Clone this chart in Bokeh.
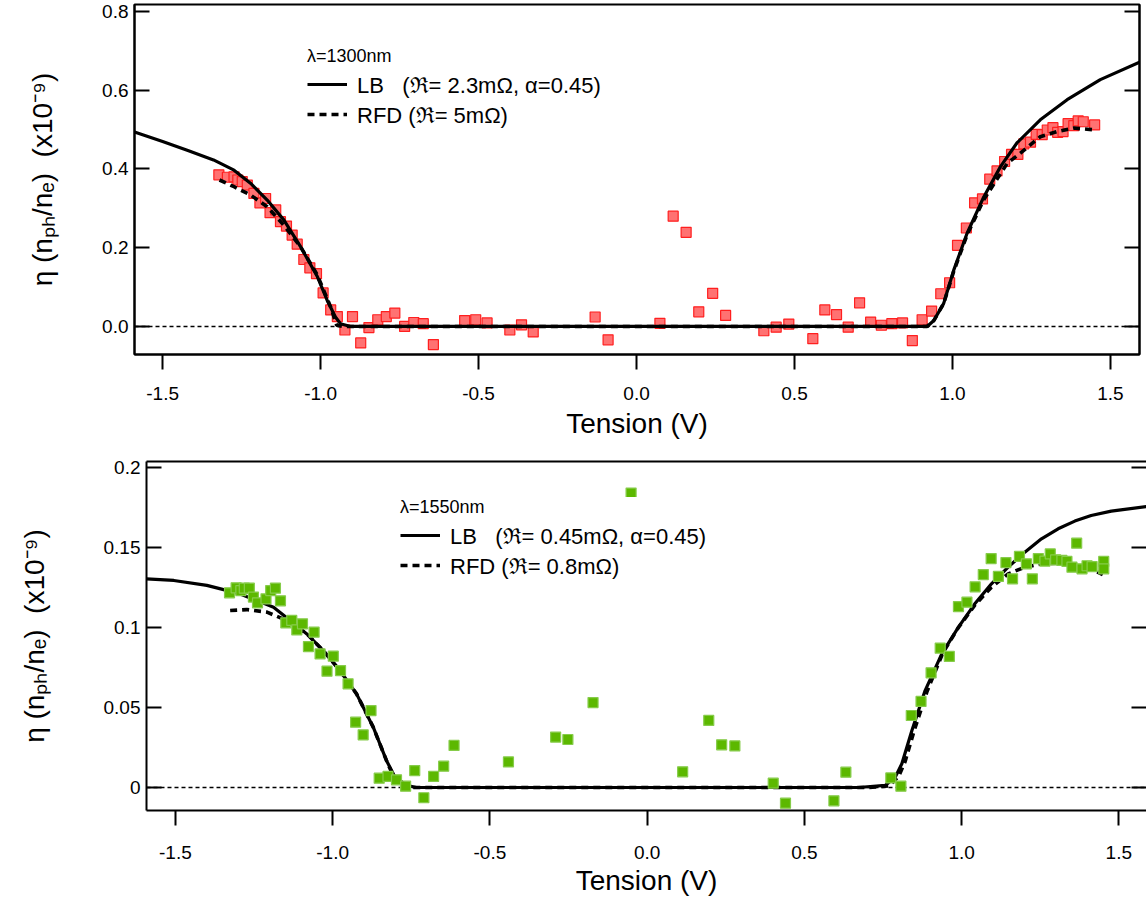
from bokeh.plotting import figure
from bokeh.models import (Range1d, FixedTicker, LinearAxis, Span, Legend, LegendItem,
                          NumeralTickFormatter)
from bokeh.layouts import column
from bokeh.embed import file_html
from bokeh.resources import INLINE

FONT = "Liberation Sans"

# ---------------- data: top panel (lambda = 1300 nm) ----------------
top_data_x = [-1.322, -1.295, -1.274, -1.262, -1.248, -1.232, -1.211, -1.192, -1.174, -1.160,
              -1.142, -1.127, -1.108, -1.090, -1.074, -1.053, -1.034, -1.013, -0.992, -0.968,
              -0.947, -0.923, -0.899, -0.873, -0.847, -0.819, -0.792, -0.765, -0.734, -0.705,
              -0.675, -0.643, -0.544, -0.509, -0.473, -0.401, -0.364, -0.327, -0.131, -0.090,
              0.074, 0.116, 0.157, 0.197, 0.241, 0.282, 0.403, 0.442, 0.482, 0.558,
              0.596, 0.633, 0.670, 0.706, 0.741, 0.775, 0.808, 0.842, 0.873, 0.904,
              0.934, 0.963, 0.991, 1.016, 1.044, 1.070, 1.095, 1.118, 1.141, 1.165,
              1.187, 1.207, 1.226, 1.247, 1.265, 1.284, 1.300, 1.318, 1.333, 1.350,
              1.366, 1.384, 1.398, 1.414, 1.450]
top_data_y = [0.385, 0.379, 0.380, 0.372, 0.368, 0.359, 0.338, 0.314, 0.325, 0.289,
              0.296, 0.266, 0.255, 0.232, 0.209, 0.170, 0.149, 0.134, 0.085, 0.042,
              0.025, -0.009, 0.025, -0.042, -0.003, 0.017, 0.025, 0.034, 0.000, 0.010,
              0.007, -0.046, 0.015, 0.017, 0.009, -0.009, 0.004, -0.014, 0.024, -0.034,
              0.008, 0.280, 0.239, 0.037, 0.084, 0.028, -0.011, -0.002, 0.006, -0.031,
              0.042, 0.030, -0.002, 0.060, 0.011, 0.003, 0.007, 0.009, -0.036, 0.017,
              0.039, 0.083, 0.111, 0.206, 0.250, 0.314, 0.324, 0.374, 0.395, 0.419,
              0.437, 0.437, 0.464, 0.468, 0.488, 0.487, 0.499, 0.505, 0.493, 0.495,
              0.515, 0.510, 0.522, 0.520, 0.512]

top_lb_x = [-1.589, -1.50, -1.42, -1.339, -1.274, -1.222, -1.169, -1.116, -1.063, -1.010,
            -0.979, -0.953, -0.937, -0.905, 0.900, 0.920, 0.941, 0.972, 1.004, 1.046,
            1.099, 1.152, 1.204, 1.278, 1.363, 1.468, 1.592]
top_lb_y = [0.494, 0.470, 0.447, 0.423, 0.397, 0.364, 0.321, 0.270, 0.202, 0.126,
            0.066, 0.024, 0.007, 0.000, 0.000, 0.000, 0.015, 0.058, 0.143, 0.236,
            0.329, 0.406, 0.466, 0.525, 0.576, 0.627, 0.671]

top_rfd_x = [-1.320, -1.274, -1.222, -1.169, -1.116, -1.063, -1.010, -0.968, -0.949, -0.930,
             0.920, 0.941, 0.972, 1.004, 1.046, 1.099, 1.173, 1.215, 1.278, 1.331,
             1.384, 1.426, 1.453]
top_rfd_y = [0.372, 0.355, 0.334, 0.304, 0.257, 0.202, 0.130, 0.049, 0.003, 0.000,
             0.000, 0.015, 0.058, 0.140, 0.232, 0.322, 0.414, 0.440, 0.482, 0.495,
             0.504, 0.501, 0.499]

# ---------------- data: bottom panel (lambda = 1550 nm) ----------------
bot_data_x = [-1.328, -1.307, -1.292, -1.281, -1.265, -1.252, -1.239, -1.212, -1.197, -1.182,
              -1.166, -1.149, -1.130, -1.114, -1.096, -1.077, -1.059, -1.040, -1.018, -0.998,
              -0.975, -0.951, -0.927, -0.903, -0.878, -0.852, -0.824, -0.797, -0.768, -0.739,
              -0.710, -0.679, -0.647, -0.614, -0.441, -0.291, -0.252, -0.172, -0.051, 0.113,
              0.196, 0.237, 0.279, 0.401, 0.440, 0.594, 0.632, 0.775, 0.807, 0.840,
              0.871, 0.903, 0.932, 0.961, 0.990, 1.017, 1.043, 1.069, 1.094, 1.117,
              1.141, 1.162, 1.184, 1.206, 1.225, 1.244, 1.265, 1.282, 1.299, 1.319,
              1.335, 1.351, 1.366, 1.383, 1.399, 1.415, 1.452, 1.452]
bot_data_y = [0.1217, 0.1248, 0.1231, 0.1246, 0.1246, 0.1190, 0.1154, 0.1179, 0.1231, 0.1246,
              0.1167, 0.1029, 0.1044, 0.0985, 0.1023, 0.0881, 0.0971, 0.0835, 0.0727, 0.0821,
              0.0731, 0.0648, 0.0408, 0.0329, 0.0481, 0.0058, 0.0069, 0.0048, 0.0008, 0.0106,
              -0.0064, 0.0069, 0.0133, 0.0263, 0.0160, 0.0315, 0.0300, 0.0531, 0.1840, 0.0098,
              0.0419, 0.0267, 0.0260, 0.0027, -0.0098, -0.0083, 0.0096, 0.0060, 0.0008, 0.0450,
              0.0538, 0.0717, 0.0871, 0.0819, 0.1131, 0.1158, 0.1254, 0.1331, 0.1431, 0.1319,
              0.1406, 0.1304, 0.1444, 0.1398, 0.1304, 0.1431, 0.1415, 0.1460, 0.1423, 0.1419,
              0.1413, 0.1377, 0.1527, 0.1367, 0.1386, 0.1381, 0.1413, 0.1367]

bot_lb_x = [-1.592, -1.505, -1.400, -1.294, -1.188, -1.135, -1.082, -1.030, -0.977, -0.924,
            -0.871, -0.829, -0.802, -0.765, -0.734, 0.672, 0.757, 0.789, 0.810, 0.842,
            0.884, 0.937, 0.990, 1.042, 1.095, 1.148, 1.201, 1.254, 1.307, 1.360,
            1.412, 1.476, 1.595]
bot_lb_y = [0.1304, 0.1294, 0.1263, 0.1210, 0.1127, 0.1044, 0.0960, 0.0856, 0.0731, 0.0585,
            0.0377, 0.0169, 0.0065, 0.0013, 0.0000, 0.0000, 0.0013, 0.0065, 0.0148, 0.0356,
            0.0606, 0.0835, 0.1002, 0.1148, 0.1273, 0.1377, 0.1471, 0.1554, 0.1617, 0.1665,
            0.1700, 0.1727, 0.1758]

bot_rfd_x = [-1.326, -1.273, -1.209, -1.146, -1.082, -1.030, -0.977, -0.924, -0.871, -0.829,
             -0.800, -0.770, 0.700, 0.770, 0.800, 0.820, 0.850, 0.890, 0.940, 0.990,
             1.042, 1.095, 1.148, 1.201, 1.254, 1.307, 1.360, 1.412, 1.449]
bot_rfd_y = [0.1106, 0.1112, 0.1096, 0.1044, 0.0960, 0.0856, 0.0731, 0.0585, 0.0377, 0.0169,
             0.0040, 0.0000, 0.0000, 0.0010, 0.0070, 0.0160, 0.0360, 0.0600, 0.0840, 0.1000,
             0.1140, 0.1252, 0.1335, 0.1377, 0.1398, 0.1402, 0.1377, 0.1367, 0.1331]

x_ticks = [-1.5, -1.0, -0.5, 0.0, 0.5, 1.0, 1.5]
top_y_ticks = [0.0, 0.2, 0.4, 0.6, 0.8]
bot_y_ticks = [0, 0.05, 0.1, 0.15, 0.2]
bot_y_labels = {0: "0", 0.05: "0.05", 0.1: "0.1", 0.15: "0.15", 0.2: "0.2"}

y_label = "\u03b7 (n\u209a\u2095/n\u2091)\u00a0\u00a0(x10\u207b\u2079)"
x_label = "Tension (V)"

top_title = "\u03bb=1300nm"
top_lb_label = "LB\u00a0\u00a0 (\u211c= 2.3m\u03a9, \u03b1=0.45)"
top_rfd_label = "RFD (\u211c= 5m\u03a9)"
bot_title = "\u03bb=1550nm"
bot_lb_label = "LB\u00a0\u00a0 (\u211c= 0.45m\u03a9, \u03b1=0.45)"
bot_rfd_label = "RFD (\u211c= 0.8m\u03a9)"

assert len(top_data_x) == len(top_data_y)
assert len(top_lb_x) == len(top_lb_y)
assert len(top_rfd_x) == len(top_rfd_y)
assert len(bot_data_x) == len(bot_data_y)
assert len(bot_lb_x) == len(bot_lb_y)
assert len(bot_rfd_x) == len(bot_rfd_y)


def make_fig(width, height, xr, yr, border_left, border_right, border_top, border_bottom):
    p = figure(width=width, height=height, x_range=Range1d(*xr), y_range=Range1d(*yr),
               output_backend="svg", toolbar_location=None,
               min_border_left=border_left, min_border_right=border_right,
               min_border_top=border_top, min_border_bottom=border_bottom,
               x_axis_label=x_label, y_axis_label=y_label)
    p.xgrid.grid_line_color = None
    p.ygrid.grid_line_color = None
    p.outline_line_color = "black"
    p.outline_line_width = 2
    p.background_fill_color = "white"
    p.border_fill_color = "white"
    for ax in (p.xaxis[0], p.yaxis[0]):
        ax.axis_line_width = 2
        ax.axis_line_color = "black"
        ax.major_tick_line_width = 2
        ax.major_tick_line_color = "black"
        ax.minor_tick_line_color = None
        ax.major_label_text_font = FONT
        ax.major_label_text_font_size = "19px"
        ax.major_label_text_color = "black"
        ax.axis_label_text_font = FONT
        ax.axis_label_text_font_size = "28px"
        ax.axis_label_text_font_style = "normal"
        ax.axis_label_text_color = "black"
    xa = p.xaxis[0]
    xa.ticker = FixedTicker(ticks=x_ticks)
    xa.formatter = NumeralTickFormatter(format="0.0")
    xa.major_tick_in = 0
    xa.major_tick_out = 15
    ya = p.yaxis[0]
    ya.major_tick_in = 15
    ya.major_tick_out = 0
    ya.major_label_standoff = 6
    return p


def add_right_axis(p, ticks, show_line):
    ra = LinearAxis(ticker=FixedTicker(ticks=ticks), major_tick_in=15, major_tick_out=0,
                    major_tick_line_width=2, major_tick_line_color="black",
                    minor_tick_line_color=None, major_label_text_font_size="1px",
                    major_label_text_color=None, major_label_text_alpha=0,
                    major_label_standoff=0,
                    axis_line_color="black" if show_line else None, axis_line_width=2)
    p.add_layout(ra, "right")


def add_top_line(p):
    ta = LinearAxis(ticker=FixedTicker(ticks=[]), major_tick_in=0, major_tick_out=0,
                    minor_tick_line_color=None, major_label_text_font_size="1px",
                    major_label_text_color=None, major_label_text_alpha=0,
                    major_label_standoff=0, axis_line_color="black", axis_line_width=2)
    p.add_layout(ta, "above")


def add_legend(p, title, items, loc, pad):
    leg = Legend(items=items, title=title, location=loc,
                 title_text_font=FONT, title_text_font_size="18px", title_text_font_style="normal",
                 title_text_color="black", title_standoff=2,
                 label_text_font=FONT, label_text_font_size="22px", label_text_color="black",
                 label_standoff=10, glyph_width=40, glyph_height=26, label_height=26,
                 spacing=0, padding=pad, margin=0, border_line_color=None,
                 background_fill_color="white", background_fill_alpha=1.0)
    p.add_layout(leg)


# ---------------- top figure ----------------
p1 = make_fig(1146, 447, (-1.589, 1.592), (-0.0713, 0.8178), 134, 7, 4, 93)
p1.yaxis[0].ticker = FixedTicker(ticks=top_y_ticks)
p1.yaxis[0].formatter = NumeralTickFormatter(format="0.0")
p1.yaxis[0].axis_label_standoff = 41
p1.xaxis[0].major_label_standoff = 17
p1.xaxis[0].axis_label_standoff = 5
add_right_axis(p1, top_y_ticks, True)
p1.add_layout(Span(location=0, dimension="width", line_color="black", line_width=1.5,
                   line_dash="4 3", level="underlay"))
p1.scatter(top_data_x, top_data_y, marker="square", size=10, fill_color="#ff7272",
           line_color="#ff1f1f", line_width=1.2)
r1_lb = p1.line(top_lb_x, top_lb_y, line_color="black", line_width=3.2)
r1_rfd = p1.line(top_rfd_x, top_rfd_y, line_color="black", line_width=3.6, line_dash="7 5")
add_legend(p1, top_title, [LegendItem(label=top_lb_label, renderers=[r1_lb]),
                           LegendItem(label=top_rfd_label, renderers=[r1_rfd])], (173, 225), 4)

# ---------------- bottom figure (its right frame edge is cut by the window) ----------------
p2 = make_fig(1164, 452, (-1.592, 1.588), (-0.014375, 0.20375), 146, 0, 14, 89)
p2.outline_line_color = None
p2.yaxis[0].ticker = FixedTicker(ticks=bot_y_ticks)
p2.yaxis[0].major_label_overrides = bot_y_labels
p2.yaxis[0].axis_label_standoff = 51
p2.xaxis[0].major_label_standoff = 20
p2.xaxis[0].axis_label_standoff = 3
add_right_axis(p2, bot_y_ticks, False)
add_top_line(p2)
p2.add_layout(Span(location=0, dimension="width", line_color="black", line_width=1.5,
                   line_dash="4 3", level="underlay"))
r2_lb = p2.line(bot_lb_x, bot_lb_y, line_color="black", line_width=3.2)
r2_rfd = p2.line(bot_rfd_x, bot_rfd_y, line_color="black", line_width=3.6, line_dash="7 5")
p2.scatter(bot_data_x, bot_data_y, marker="square", size=10, fill_color="#5cb800",
           line_color="#86cc4a", line_width=1.2)
add_legend(p2, bot_title, [LegendItem(label=bot_lb_label, renderers=[r2_lb]),
                           LegendItem(label=bot_rfd_label, renderers=[r2_rfd])], (254, 230), 7)

bottom = column(p2, width=1146, height=452, sizing_mode="fixed", styles={"overflow": "hidden"})

open("out.html", "w").write(file_html([p1, bottom], INLINE))
